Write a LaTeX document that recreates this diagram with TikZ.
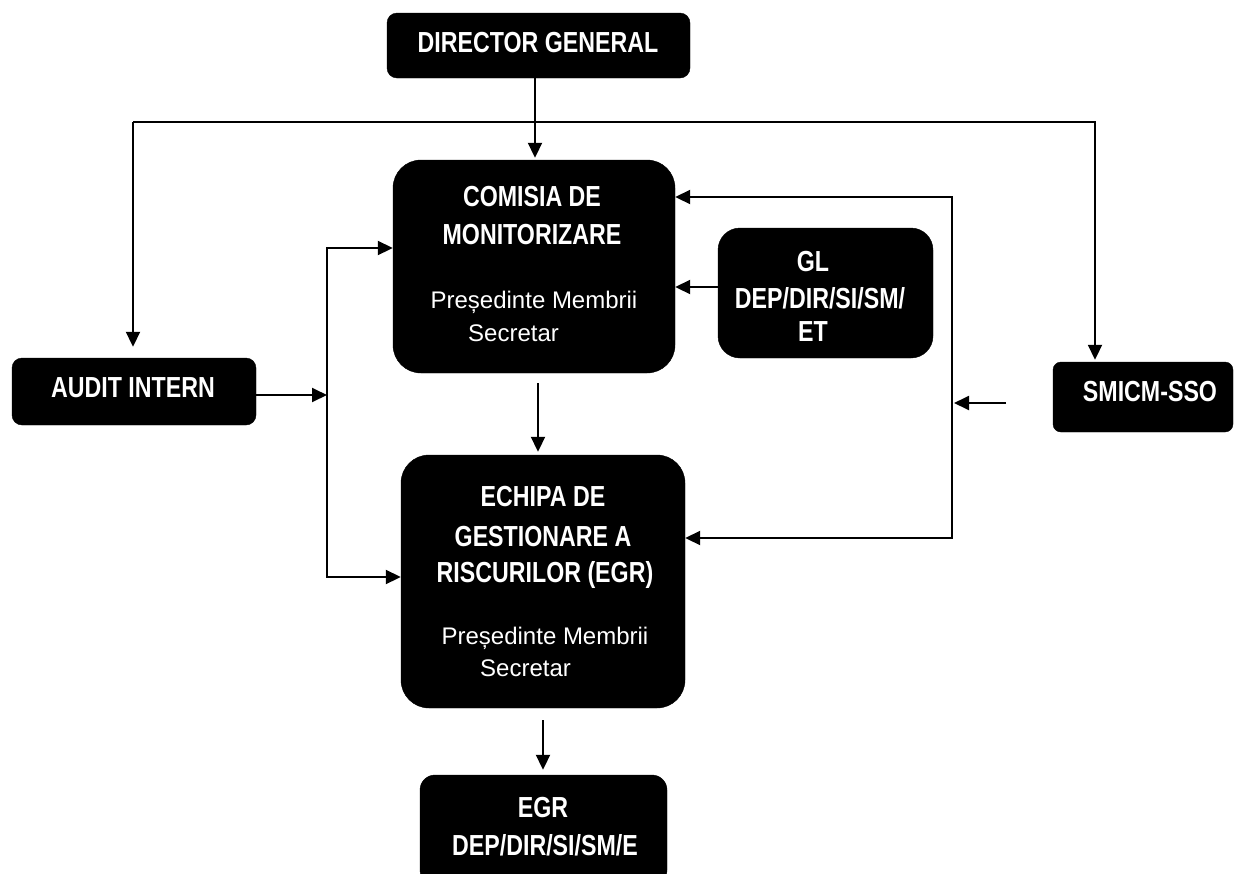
\documentclass[tikz,border=0pt]{standalone}
\usepackage{fontspec}
\setmainfont{Liberation Sans}
\newfontfamily\nb[FakeStretch=0.8]{Liberation Sans}
\usetikzlibrary{arrows.meta}
\begin{document}
\begin{tikzpicture}[x=1pt,y=-1pt,
  box/.style={fill=black, draw=black, inner sep=0pt},
  ttl/.style={text=white, font=\nb\bfseries\fontsize{29}{34}\selectfont, inner sep=0pt},
  bdy/.style={text=white, font=\fontsize{24}{29}\selectfont, inner sep=0pt},
  arr/.style={line width=1.9pt, -{Triangle[length=15pt,width=14pt]}},
  darr/.style={line width=1.9pt, {Triangle[length=15pt,width=14pt]}-{Triangle[length=15pt,width=14pt]}}]
\useasboundingbox (0,0) rectangle (1234,873);
\clip (0,0) rectangle (1234,873);
\fill[white] (0,0) rectangle (1234,873);

% boxes
\node[box, minimum width=303pt, minimum height=65pt, rounded corners=10pt] (dg) at (538.5,45.5) {};
\node[box, minimum width=282pt, minimum height=213pt, rounded corners=28pt] (comisia) at (534,266.5) {};
\node[box, minimum width=215pt, minimum height=130pt, rounded corners=22pt] (gl) at (825.5,293) {};
\node[box, minimum width=244pt, minimum height=67pt, rounded corners=10pt] (audit) at (134,391.5) {};
\node[box, minimum width=180pt, minimum height=70pt, rounded corners=8pt] (smicm) at (1143,397) {};
\node[box, minimum width=284pt, minimum height=253pt, rounded corners=28pt] (echipa) at (543,581.5) {};
\node[box, minimum width=247pt, minimum height=110pt, rounded corners=15pt] (egr) at (543.5,830) {};

% texts
\node[ttl] (dgt) at (538,43) {DIRECTOR GENERAL};
\node[ttl] (ct1) at (532,197) {COMISIA DE};
\node[ttl] (ct2) at (532,235) {MONITORIZARE};
\node[bdy] (cb1) at (534,302) {Președinte Membrii};
\node[bdy, anchor=west] (cb2) at (468,333) {Secretar};
\node[ttl] (gt1) at (813,262) {GL};
\node[ttl] (gt2) at (820,298) {DEP/DIR/SI/SM/};
\node[ttl] (gt3) at (813,332) {ET};
\node[ttl] (at) at (133,388) {AUDIT INTERN};
\node[ttl] (st) at (1150,392) {SMICM-SSO};
\node[ttl] (et1) at (543,497) {ECHIPA DE};
\node[ttl] (et2) at (543,537) {GESTIONARE A};
\node[ttl] (et3) at (545,575) {RISCURILOR (EGR)};
\node[bdy] (eb1) at (545,638) {Președinte Membrii};
\node[bdy, anchor=west] (eb2) at (480,668) {Secretar};
\node[ttl] (gr1) at (543,808) {EGR};
\node[ttl] (gr2) at (545,845) {DEP/DIR/SI/SM/E};

% coordinates
\coordinate (tl) at (133,122);
\coordinate (tr) at (1095,122);
\coordinate (rb1) at (952,197);
\coordinate (rb2) at (952,538);
\coordinate (lb1) at (327,248);
\coordinate (lb2) at (327,577);
\coordinate (s1) at (1006,403);

% connectors
\draw[arr, shorten >=2pt] ([xshift=-3.5pt]dg.south) -- ([xshift=-3.5pt]dg.south |- comisia.north);
\draw[arr, shorten >=11pt] (tl) -- (tl |- audit.north);
\draw[arr, shorten >=2pt] (tl) -- (tr) -- (tr |- smicm.north);
\draw[arr] ([yshift=6pt]gl.west) -- ([yshift=6pt]gl.west -| comisia.east);
\draw[darr] (rb1 -| comisia.east) -- (rb1) -- (rb2) -- (rb2 -| echipa.east);
\draw[arr, shorten >=2pt] (s1) -- (s1 -| rb1);
\draw[darr] (lb1 -| comisia.west) -- (lb1) -- (lb2) -- (lb2 -| echipa.west);
\draw[arr] ([yshift=-3.5pt]audit.east) -- ([yshift=-3.5pt]audit.east -| lb1);
\draw[arr, shorten <=10pt, shorten >=3pt] ([xshift=4pt]comisia.south) -- ([xshift=4pt]comisia.south |- echipa.north);
\draw[arr, shorten <=12pt, shorten >=5pt] (echipa.south) -- (echipa.south |- egr.north);
\end{tikzpicture}
\end{document}
